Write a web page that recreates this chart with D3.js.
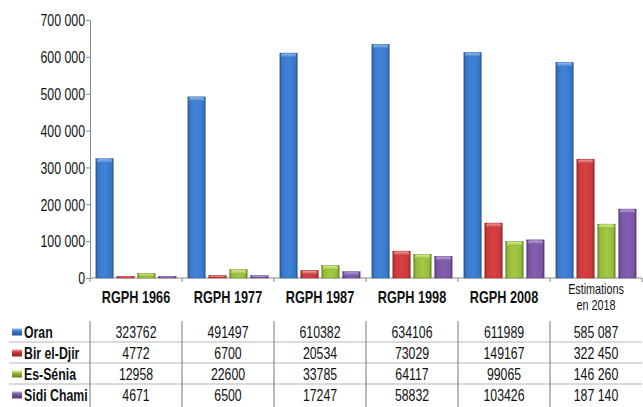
<!DOCTYPE html>
<html><head><meta charset="utf-8">
<script src="https://cdn.jsdelivr.net/npm/d3@7"></script>
<style>
body{margin:0;background:#fff;}
svg{display:block;font-family:"Liberation Sans",Arial,sans-serif;}
</style></head><body>
<svg id="c" width="643" height="407"></svg>
<script>
const categories = ["RGPH 1966","RGPH 1977","RGPH 1987","RGPH 1998","RGPH 2008","Estimations en 2018"];
const seriesNames = ["Oran","Bir el-Djir","Es-Sénia","Sidi Chami"];
const oran = [323762,491497,610382,634106,611989,585087];
const birElDjir = [4772,6700,20534,73029,149167,322450];
const esSenia = [12958,22600,33785,64117,99065,146260];
const sidiChami = [4671,6500,17247,58832,103426,187140];
const tableLabels = [
  ["323762","491497","610382","634106","611989","585 087"],
  ["4772","6700","20534","73029","149167","322 450"],
  ["12958","22600","33785","64117","99065","146 260"],
  ["4671","6500","17247","58832","103426","187 140"]
];
const yTicks = [0,100000,200000,300000,400000,500000,600000,700000];
const colors = ["#3a78c6","#c93a3c","#94b93c","#7a56a3"];
const darks = ["#23528f","#8f2224","#5f7f1f","#4f3475"];
const lights = ["#8cbcf0","#f29a9a","#d8ef8c","#bea5dd"];

const series = [oran, birElDjir, esSenia, sidiChami];
const svg = d3.select("#c");
const mLeft = 90, mRight = 642, mTop = 20, mBottom = 278;
const SX = 0.77; // horizontal condensing of text

function txt(parent, x, y, str, size, weight, anchor) {
  return parent.append("text")
    .attr("transform", `translate(${x},${y}) scale(${SX},1)`)
    .attr("text-anchor", anchor || "middle")
    .attr("font-size", size).attr("font-weight", weight || "normal")
    .attr("fill", "#111").text(str);
}

const x = d3.scaleBand().domain(categories).range([mLeft, mRight]).paddingInner(0).paddingOuter(0);
const xs = d3.scaleBand().domain(seriesNames).range([0, x.bandwidth()]).paddingInner(0.17).paddingOuter(0.28);
const y = d3.scaleLinear().domain([0,700000]).range([mBottom, mTop]);

const defs = svg.append("defs");
colors.forEach((c,i)=>{
  const g = defs.append("linearGradient").attr("id","g"+i).attr("x1","0").attr("x2","1").attr("y1","0").attr("y2","0");
  g.append("stop").attr("offset","0").attr("stop-color",darks[i]);
  g.append("stop").attr("offset","0.12").attr("stop-color",c);
  g.append("stop").attr("offset","0.5").attr("stop-color",d3.color(c).brighter(0.25));
  g.append("stop").attr("offset","0.88").attr("stop-color",c);
  g.append("stop").attr("offset","1").attr("stop-color",darks[i]);
  const h = defs.append("linearGradient").attr("id","h"+i).attr("x1","0").attr("x2","0").attr("y1","0").attr("y2","1");
  h.append("stop").attr("offset","0").attr("stop-color",lights[i]);
  h.append("stop").attr("offset","1").attr("stop-color",c);
  const k = defs.append("linearGradient").attr("id","k"+i).attr("x1","0").attr("x2","0").attr("y1","0").attr("y2","1");
  k.append("stop").attr("offset","0").attr("stop-color",lights[i]);
  k.append("stop").attr("offset","0.4").attr("stop-color",c);
  k.append("stop").attr("offset","1").attr("stop-color",darks[i]);
});

// y axis
const yAxis = d3.axisLeft(y).tickValues(yTicks).tickSize(4).tickPadding(1)
  .tickFormat(d => d3.format(",")(d).replace(/,/g," "));
const ya = svg.append("g").attr("transform",`translate(${mLeft},0)`).call(yAxis);
ya.attr("font-family",null).attr("font-size",null);
ya.select(".domain").attr("stroke","#8a8a8a");
ya.selectAll(".tick line").attr("stroke","#8a8a8a");
ya.selectAll(".tick text").attr("font-size",16).attr("fill","#111")
  .attr("x", -5/SX).attr("transform",`scale(${SX},1)`).attr("dy","0.36em");

// x axis line + ticks at boundaries
const bounds = categories.map(c=>x(c)).concat([mRight]);
svg.append("line").attr("x1",mLeft).attr("x2",mRight).attr("y1",mBottom).attr("y2",mBottom).attr("stroke","#8a8a8a");
svg.selectAll(".xt").data(bounds).join("line").attr("x1",d=>d).attr("x2",d=>d)
  .attr("y1",mBottom).attr("y2",mBottom+4).attr("stroke","#8a8a8a");

// bars
seriesNames.forEach((s,i)=>{
  const gg = svg.append("g");
  categories.forEach((c,j)=>{
    const bx = x(c)+xs(s), bw = xs.bandwidth();
    const by = y(series[i][j]), bh = mBottom - by;
    gg.append("rect").attr("x",bx).attr("y",by).attr("width",bw).attr("height",bh)
      .attr("fill",`url(#g${i})`).attr("stroke",darks[i]).attr("stroke-width",0.4);
    const cap = Math.min(4, bh*0.5);
    gg.append("rect").attr("x",bx+1).attr("y",by+0.5).attr("width",bw-2).attr("height",cap)
      .attr("rx",2).attr("fill",`url(#h${i})`);
  });
});

// category labels
categories.forEach((c,j)=>{
  const cx = x(c)+x.bandwidth()/2;
  if (c.startsWith("Estimations")) {
    txt(svg, cx, 293.5, "Estimations", 14, "normal");
    txt(svg, cx, 310, "en 2018", 14, "normal");
  } else {
    txt(svg, cx, 302.5, c, 16.5, "bold");
  }
});

// table
const rowTop = 321, rowH = 21;
[1,2,3].forEach(r=>{
  svg.append("line").attr("x1",9).attr("x2",mRight).attr("y1",rowTop+r*rowH).attr("y2",rowTop+r*rowH)
    .attr("stroke","#b5b5b5").attr("stroke-width",1);
});
bounds.slice(0,6).forEach(b=>{
  svg.append("line").attr("x1",b).attr("x2",b).attr("y1",rowTop).attr("y2",407)
    .attr("stroke","#8a8a8a").attr("stroke-width",1.2);
});
seriesNames.forEach((s,i)=>{
  const cy = rowTop + i*rowH + rowH/2;
  svg.append("rect").attr("x",12).attr("y",cy-3).attr("width",10).attr("height",7).attr("fill",`url(#k${i})`);
  txt(svg, 24, cy+6, s, 16, "bold", "start");
  categories.forEach((c,j)=>{
    txt(svg, x(c)+x.bandwidth()/2, cy+6, tableLabels[i][j], 16, "normal");
  });
});
</script>
</body></html>
